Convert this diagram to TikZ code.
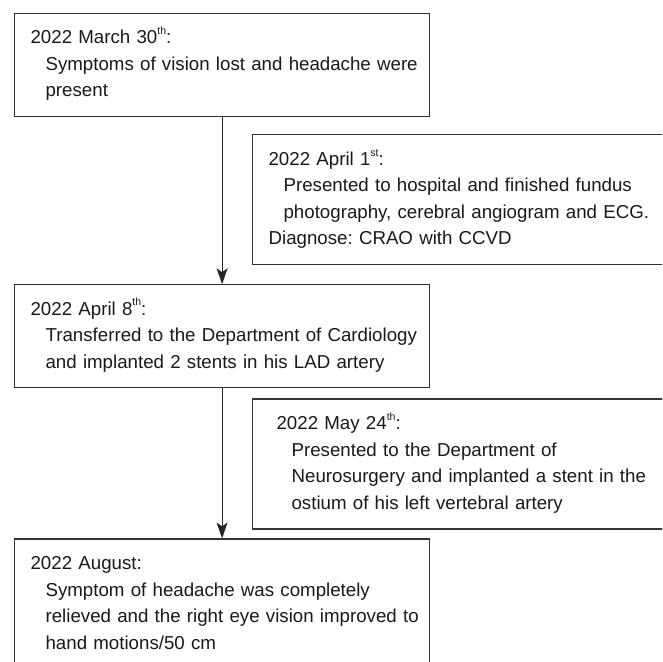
\documentclass[tikz,border=0pt]{standalone}
\usepackage{fontspec}
\setmainfont{Liberation Sans}
\usetikzlibrary{arrows.meta, positioning}
\frenchspacing
\newcommand{\evlines}[1]{\begin{tabular}{@{}l@{}}#1\end{tabular}}
\newcommand{\ordsup}[1]{\raisebox{0.5em}{\fontsize{10.5}{10.5}\selectfont #1}}

\begin{document}
\begin{tikzpicture}[
        font=\fontsize{18.7}{26.5}\selectfont,
        event/.style={rectangle, draw=black!80, line width=1.2pt, text=black!90, align=left, inner xsep=16pt, inner ysep=0pt, text width=383pt, minimum height=103pt},
        eventr/.style={event, text width=386pt, minimum height=130pt},
        arrow/.style={line width=1.2pt, draw=black!85, -{Stealth[length=16pt, width=11pt, inset=4pt]}}
    ]
        \clip (0,0) rectangle (662pt,-662pt);

        \node[event, anchor=north west] (mar30) at (14pt,-13pt) {\evlines{2022 March 30\ordsup{th}:\\\hspace*{15pt}Symptoms of vision lost and headache were\\\hspace*{15pt}present}};
        \node[eventr, below=17pt of mar30.south west, anchor=north west, xshift=238pt] (apr1) {\evlines{2022 April 1\ordsup{st}:\\\hspace*{15pt}Presented to hospital and finished fundus\\\hspace*{15pt}photography, cerebral angiogram and ECG.\\Diagnose: CRAO with CCVD}};
        \node[event, below=167pt of mar30] (apr8) {\evlines{2022 April 8\ordsup{th}:\\\hspace*{15pt}Transferred to the Department of Cardiology\\\hspace*{15pt}and implanted 2 stents in his LAD artery}};
        \node[eventr, inner xsep=24pt, text width=370pt, below=10pt of apr8.south west, anchor=north west, xshift=238pt] (may24) {\evlines{2022 May 24\ordsup{th}:\\\hspace*{15pt}Presented to the Department of\\\hspace*{15pt}Neurosurgery and implanted a stent in the\\\hspace*{15pt}ostium of his left vertebral artery}};
        \node[event, minimum height=130pt, below=150pt of apr8] (aug) {\evlines{2022 August:\\\hspace*{15pt}Symptom of headache was completely\\\hspace*{15pt}relieved and the right eye vision improved to\\\hspace*{15pt}hand motions/50 cm}};

        \draw[arrow] (mar30) -- (apr8);
        \draw[arrow] (apr8) -- (aug);
\end{tikzpicture}
\end{document}
